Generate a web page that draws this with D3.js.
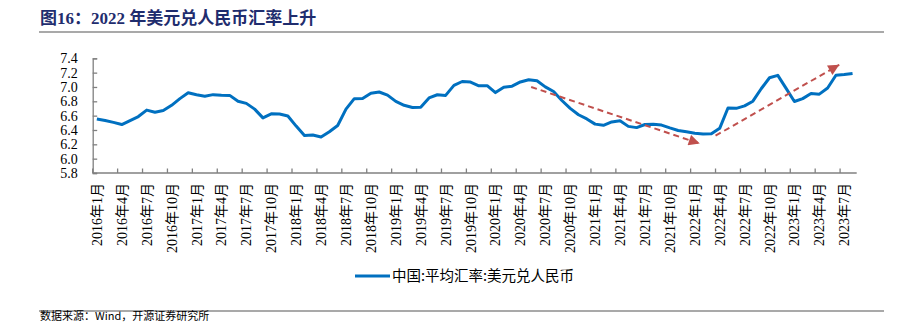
<!DOCTYPE html>
<html><head><meta charset="utf-8">
<script src="https://cdn.jsdelivr.net/npm/d3@7"></script>
<style>
html,body{margin:0;padding:0;background:#fff;}
svg{display:block;}
</style></head>
<body>
<svg id="c" width="898" height="323"></svg>
<script>
// ---------- data ----------
const titleText = "图16：2022 年美元兑人民币汇率上升";
const seriesName = "中国:平均汇率:美元兑人民币";
const sourceText = "数据来源：Wind，开源证券研究所";
const startYear = 2016;
const v2016 = [6.5527, 6.5311, 6.5064, 6.4762, 6.5315, 6.5874, 6.6774, 6.6474, 6.6715, 6.7442, 6.8375, 6.9198];
const v2017 = [6.8918, 6.8713, 6.8932, 6.8845, 6.8827, 6.8009, 6.7712, 6.6908, 6.5689, 6.6254, 6.6235, 6.5960];
const v2018 = [6.4544, 6.3225, 6.3306, 6.3013, 6.3760, 6.4630, 6.6917, 6.8367, 6.8380, 6.9127, 6.9302, 6.8869];
const v2019 = [6.7989, 6.7444, 6.7144, 6.7184, 6.8469, 6.8915, 6.8823, 7.0219, 7.0764, 7.0678, 7.0170, 7.0182];
const v2020 = [6.9214, 6.9967, 7.0110, 7.0703, 7.1016, 7.0874, 7.0014, 6.9374, 6.8110, 6.7010, 6.6130, 6.5542];
const v2021 = [6.4816, 6.4656, 6.5125, 6.5284, 6.4504, 6.4331, 6.4766, 6.4794, 6.4680, 6.4286, 6.3937, 6.3749];
const v2022 = [6.3555, 6.3433, 6.3467, 6.4226, 6.7060, 6.7019, 6.7366, 6.8018, 6.9749, 7.1287, 7.1624, 6.9799];
const v2023 = [6.7977, 6.8378, 6.9088, 6.8997, 6.9850, 7.1637, 7.1726, 7.1886];
const yTicks = [5.8, 6.0, 6.2, 6.4, 6.6, 6.8, 7.0, 7.2, 7.4];
// trend arrows: [startIndex, startValue, endIndex, endValue] (index in months from 2016-01)
const arrowDown = [52.8, 7.00, 73.1, 6.21];
const arrowUp = [75.0, 6.32, 89.9, 7.31];

const values = [].concat(v2016, v2017, v2018, v2019, v2020, v2021, v2022, v2023);
const categories = values.map((v, i) => `${startYear + Math.floor(i / 12)}年${(i % 12) + 1}月`);
const data = categories.map((c, i) => ({c, v: values[i], i}));

// ---------- layout ----------
const svg = d3.select("#c");
const L = 92.7, R = 856.7, T = 58.3, B = 173;
const blue = "#0070C0", red = "#C0504D", axisCol = "#808080";
const serif = "'Liberation Serif','Times New Roman','Noto Sans CJK SC',serif";
const cjk = "'Noto Sans CJK SC','Liberation Serif',sans-serif";

const x = d3.scaleBand().domain(categories).range([L, R]).paddingInner(0).paddingOuter(0);
const xi = d3.scaleLinear().domain([0, categories.length]).range([L, R]); // boundary index scale
const y = d3.scaleLinear().domain([5.8, 7.4]).range([B, T]);

// title
svg.append("text").attr("x", 40).attr("y", 24)
  .attr("font-family", serif).attr("font-weight", "bold").attr("font-size", 17)
  .attr("fill", "#1F2D6E").text(titleText);
svg.append("line").attr("x1", 39).attr("x2", 884).attr("y1", 32).attr("y2", 32)
  .attr("stroke", "#555").attr("stroke-width", 1.2);

// y axis
const yAxis = d3.axisLeft(y).tickValues(yTicks).tickSize(-4.5).tickPadding(15)
  .tickFormat(d3.format(".1f"));
const gy = svg.append("g").attr("transform", `translate(${L},0)`).call(yAxis);
gy.select(".domain").attr("stroke", axisCol).attr("stroke-width", 1.3);
gy.selectAll(".tick line").attr("stroke", axisCol).attr("stroke-width", 1.3);
gy.selectAll(".tick text").attr("font-family", serif).attr("font-size", 14).attr("fill", "#000");

// x axis: ticks at category boundaries every 3 months, labels at category centers
const tickIdx = d3.range(0, categories.length, 3);
const gx = svg.append("g");
gx.append("line").attr("x1", L).attr("x2", R).attr("y1", B).attr("y2", B)
  .attr("stroke", axisCol).attr("stroke-width", 1.3);
gx.selectAll("line.tk").data(tickIdx).join("line").attr("class", "tk")
  .attr("x1", d => xi(d)).attr("x2", d => xi(d)).attr("y1", B).attr("y2", B - 4.5)
  .attr("stroke", axisCol).attr("stroke-width", 1.3);
gx.selectAll("text").data(tickIdx).join("text")
  .attr("transform", d => `translate(${x(categories[d]) + x.bandwidth() / 2 + 5},183) rotate(-90)`)
  .attr("text-anchor", "end").attr("font-family", serif).attr("font-size", 14).attr("fill", "#000")
  .text(d => categories[d]);

// line
const line = d3.line().x(d => x(d.c) + x.bandwidth() / 2).y(d => y(d.v));
svg.append("path").datum(data).attr("d", line).attr("fill", "none")
  .attr("stroke", blue).attr("stroke-width", 3).attr("stroke-linejoin", "round");

// arrows
svg.append("defs").append("marker").attr("id", "ah").attr("viewBox", "0 0 10 10")
  .attr("refX", 10).attr("refY", 5).attr("markerWidth", 13).attr("markerHeight", 11)
  .attr("markerUnits", "userSpaceOnUse").attr("orient", "auto")
  .append("path").attr("d", "M0,0 L10,5 L0,10 Z").attr("fill", red);
[arrowDown, arrowUp].forEach(a => {
  svg.append("line")
    .attr("x1", xi(a[0])).attr("y1", y(a[1])).attr("x2", xi(a[2])).attr("y2", y(a[3]))
    .attr("stroke", red).attr("stroke-width", 2).attr("stroke-dasharray", "6,4")
    .attr("marker-end", "url(#ah)");
});

// legend
svg.append("line").attr("x1", 355).attr("x2", 390).attr("y1", 276).attr("y2", 276)
  .attr("stroke", blue).attr("stroke-width", 3);
svg.append("text").attr("x", 392).attr("y", 281).attr("font-family", cjk).attr("font-size", 14.5)
  .attr("fill", "#000").text(seriesName);

// footer
svg.append("line").attr("x1", 39).attr("x2", 884).attr("y1", 311).attr("y2", 311)
  .attr("stroke", "#555").attr("stroke-width", 1.2);
svg.append("text").attr("x", 40).attr("y", 320).attr("font-family", cjk).attr("font-size", 11)
  .attr("fill", "#000").text(sourceText);
</script>
</body></html>
